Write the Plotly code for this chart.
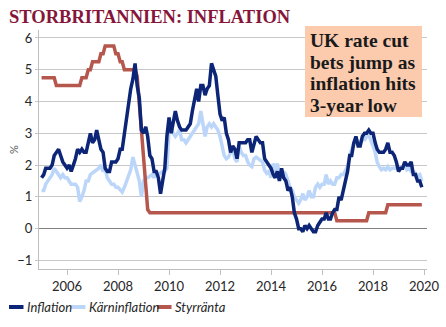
import plotly.graph_objects as go
import pandas as pd

# ---------------- data (monthly, Jan 2005 - Dec 2019) ----------------
inflation = [
    1.6, 1.7, 1.9, 1.9, 1.9, 2.0, 2.3, 2.4, 2.5, 2.3, 2.1, 2.0,   # 2005
    1.9, 2.0, 1.8, 2.0, 2.2, 2.5, 2.4, 2.5, 2.4, 2.4, 2.7, 3.0,   # 2006
    2.7, 2.8, 3.1, 2.8, 2.5, 2.4, 1.9, 1.8, 1.8, 2.1, 2.1, 2.1,   # 2007
    2.2, 2.5, 2.5, 3.0, 3.3, 3.8, 4.4, 4.7, 5.2, 4.5, 4.1, 3.1,   # 2008
    3.0, 3.2, 2.9, 2.3, 2.2, 1.8, 1.8, 1.6, 1.1, 1.5, 1.9, 2.9,   # 2009
    3.5, 3.0, 3.4, 3.7, 3.4, 3.2, 3.1, 3.1, 3.1, 3.2, 3.3, 3.7,   # 2010
    4.0, 4.4, 4.0, 4.5, 4.5, 4.2, 4.4, 4.5, 5.2, 5.0, 4.8, 4.2,   # 2011
    3.6, 3.4, 3.5, 3.0, 2.8, 2.4, 2.6, 2.5, 2.2, 2.7, 2.7, 2.7,   # 2012
    2.7, 2.8, 2.8, 2.4, 2.7, 2.9, 2.8, 2.7, 2.7, 2.2, 2.1, 2.0,   # 2013
    1.9, 1.7, 1.6, 1.8, 1.5, 1.9, 1.6, 1.5, 1.2, 1.3, 1.0, 0.5,   # 2014
    0.3, 0.0, 0.0, -0.1, 0.1, 0.0, 0.1, 0.0, -0.1, -0.1, 0.1, 0.2,  # 2015
    0.3, 0.3, 0.5, 0.3, 0.3, 0.5, 0.6, 0.6, 1.0, 0.9, 1.2, 1.6,   # 2016
    1.8, 2.3, 2.3, 2.7, 2.9, 2.6, 2.6, 2.9, 3.0, 3.0, 3.1, 3.0,   # 2017
    3.0, 2.7, 2.5, 2.4, 2.4, 2.4, 2.5, 2.7, 2.4, 2.4, 2.3, 2.1,   # 2018
    1.8, 1.9, 1.9, 2.1, 2.0, 2.0, 2.1, 1.7, 1.7, 1.5, 1.5, 1.3,   # 2019
]

karninflation = [
    1.2, 1.2, 1.4, 1.5, 1.6, 1.7, 1.9, 1.8, 1.7, 1.6, 1.7, 1.6,   # 2005
    1.6, 1.5, 1.4, 1.4, 1.4, 1.3, 0.85, 1.0, 1.2, 1.5, 1.5, 1.7,  # 2006
    1.75, 1.8, 1.85, 1.9, 2.0, 1.8, 1.9, 1.6, 1.5, 1.4, 1.4, 1.3, # 2007
    1.3, 1.2, 1.15, 1.3, 1.5, 1.7, 1.85, 2.25, 2.0, 1.8, 1.5, 1.0, # 2008
    1.5, 1.6, 1.6, 1.65, 1.7, 1.6, 1.8, 1.7, 1.75, 1.8, 1.8, 1.9, # 2009
    3.1, 3.2, 3.0, 2.9, 3.0, 3.1, 2.8, 2.8, 2.7, 2.8, 2.9, 3.0,   # 2010
    3.1, 3.2, 3.3, 3.7, 3.3, 2.9, 3.2, 3.3, 3.2, 3.3, 3.2, 3.1,   # 2011
    2.9, 2.6, 2.3, 2.2, 2.25, 2.4, 2.5, 2.2, 2.1, 2.6, 2.4, 2.3,  # 2012
    2.3, 2.1, 2.0, 1.95, 2.2, 2.25, 2.2, 2.15, 2.1, 1.84, 1.74, 1.8,  # 2013
    1.6, 2.05, 1.8, 2.05, 1.7, 1.6, 1.8, 1.7, 1.5, 1.3, 1.2, 1.0, # 2014
    0.9, 0.8, 0.9, 1.1, 0.9, 1.0, 1.2, 1.0, 1.0, 1.3, 1.4, 1.3,   # 2015
    1.4, 1.4, 1.7, 1.4, 1.5, 1.4, 1.4, 1.6, 1.6, 1.7, 1.7, 1.8,   # 2016
    1.95, 2.3, 2.5, 2.7, 2.7, 2.75, 2.7, 2.8, 2.8, 2.9, 2.95, 2.8, # 2017
    2.6, 2.4, 2.1, 1.95, 1.85, 1.9, 1.85, 1.95, 1.85, 1.9, 1.9, 1.9, # 2018
    1.85, 1.9, 1.95, 2.0, 1.85, 1.9, 1.8, 1.8, 1.75, 1.65, 1.7, 1.5, # 2019
]

styrranta = [
    4.75, 4.75, 4.75, 4.75, 4.75, 4.75, 4.75, 4.5, 4.5, 4.5, 4.5, 4.5,   # 2005
    4.5, 4.5, 4.5, 4.5, 4.5, 4.5, 4.5, 4.75, 4.75, 4.75, 5.0, 5.0,       # 2006
    5.25, 5.25, 5.25, 5.25, 5.5, 5.5, 5.75, 5.75, 5.75, 5.75, 5.75, 5.5, # 2007
    5.5, 5.25, 5.25, 5.0, 5.0, 5.0, 5.0, 5.0, 5.0, 4.8, 4.0, 3.1,        # 2008
    2.2, 1.4, 0.6, 0.5, 0.5, 0.5, 0.5, 0.5, 0.5, 0.5, 0.5, 0.5,          # 2009
] + [0.5] * 72 + [                                                      # 2010-2015
    0.5, 0.5, 0.5, 0.5, 0.5, 0.5, 0.5, 0.25, 0.25, 0.25, 0.25, 0.25,     # 2016
    0.25, 0.25, 0.25, 0.25, 0.25, 0.25, 0.25, 0.25, 0.25, 0.25, 0.5, 0.5, # 2017
    0.5, 0.5, 0.5, 0.5, 0.5, 0.5, 0.5, 0.75, 0.75, 0.75, 0.75, 0.75,     # 2018
    0.75, 0.75, 0.75, 0.75, 0.75, 0.75, 0.75, 0.75, 0.75, 0.75, 0.75, 0.75, # 2019
]

months = pd.date_range("2005-01-01", periods=len(inflation), freq="MS")
x_tick_years = [2006, 2008, 2010, 2012, 2014, 2016, 2018, 2020]
y_ticks = [-1, 0, 1, 2, 3, 4, 5, 6]

colors = {"Inflation": "#0c2577", "Kärninflation": "#bcd6fa", "Styrränta": "#b5574c"}

title_text = "STORBRITANNIEN: INFLATION"
box_lines = ["UK rate cut", "bets jump as", "inflation hits", "3-year low"]

# ---------------- layout geometry (pixels) ----------------
W, H = 446, 327
L, R, T, B = 39, 19, 30, 58
PW, PH = W - L - R, H - T - B


def px(x):
    return (x - L) / PW


def py(y):
    return 1 - (y - T) / PH


fig = go.Figure()
fig.add_trace(go.Scatter(x=months, y=karninflation, mode="lines", name="Kärninflation",
                         line=dict(color=colors["Kärninflation"], width=3.5)))
fig.add_trace(go.Scatter(x=months, y=styrranta, mode="lines", name="Styrränta",
                         line=dict(color=colors["Styrränta"], width=3.5)))
fig.add_trace(go.Scatter(x=months, y=inflation, mode="lines", name="Inflation",
                         line=dict(color=colors["Inflation"], width=3.5)))

tick_font = dict(family="Lato", size=13, color="#262626")

fig.update_layout(
    width=W, height=H,
    margin=dict(l=L, r=R, t=T, b=B, autoexpand=False),
    paper_bgcolor="white", plot_bgcolor="white",
    showlegend=False,
    xaxis=dict(
        type="date", automargin=False,
        range=["2004-11-25", "2020-02-13"],
        tickvals=[f"{y}-01-01" for y in x_tick_years],
        ticktext=[str(y) for y in x_tick_years],
        showgrid=False, zeroline=False,
        showline=True, linecolor="#bfbfbf", linewidth=1,
        ticks="outside", ticklen=5, tickcolor="#bfbfbf",
        tickfont=tick_font,
    ),
    yaxis=dict(
        automargin=False,
        range=[-1.27, 6.25],
        tickvals=y_ticks,
        showgrid=True, gridcolor="#c8c8c8", gridwidth=1,
        zeroline=True, zerolinecolor="#808080", zerolinewidth=1,
        showline=True, linecolor="#bfbfbf", linewidth=1,
        ticks="outside", ticklen=3, tickcolor="#c8c8c8",
        tickfont=tick_font,
    ),
)

annotations = []
shapes = []

# title
annotations.append(dict(
    text=f"<b>{title_text}</b>", xref="paper", yref="paper",
    x=px(7), y=py(17), xanchor="left", yanchor="middle", showarrow=False,
    font=dict(family="Liberation Serif", size=18.5, color="#85163a"),
))

# y-axis unit
annotations.append(dict(
    text="%", xref="paper", yref="paper", x=px(13), y=py(150),
    xanchor="center", yanchor="middle", showarrow=False, textangle=-90,
    font=dict(family="Lato", size=11, color="#595959"),
))

# headline box
shapes.append(dict(type="rect", xref="paper", yref="paper",
                   x0=px(305), x1=px(422), y0=py(26), y1=py(117),
                   fillcolor="#fccbae", line=dict(width=0), layer="above"))
for i, line_text in enumerate(box_lines):
    annotations.append(dict(
        text=f"<b>{line_text}</b>", xref="paper", yref="paper",
        x=px(309), y=py(40.5 + 21.5 * i), xanchor="left", yanchor="middle", showarrow=False,
        font=dict(family="Liberation Serif", size=19.5, color="#1a1a1a"),
        borderpad=0,
    ))

# legend (drawn manually)
legend_items = [("Inflation", 9, 25), ("Kärninflation", 71, 87), ("Styrränta", 157, 173)]
ly = 307
for name, lx0, tx in legend_items:
    shapes.append(dict(type="line", xref="paper", yref="paper",
                       x0=px(lx0), x1=px(lx0 + 14.5), y0=py(ly), y1=py(ly),
                       line=dict(color=colors[name], width=4)))
    annotations.append(dict(
        text=f"<i>{name}</i>", xref="paper", yref="paper",
        x=px(tx), y=py(ly), xanchor="left", yanchor="middle", showarrow=False,
        font=dict(family="Lato", size=13, color="#262626"),
    ))

fig.update_layout(annotations=annotations, shapes=shapes)

fig.write_html("out.html")
